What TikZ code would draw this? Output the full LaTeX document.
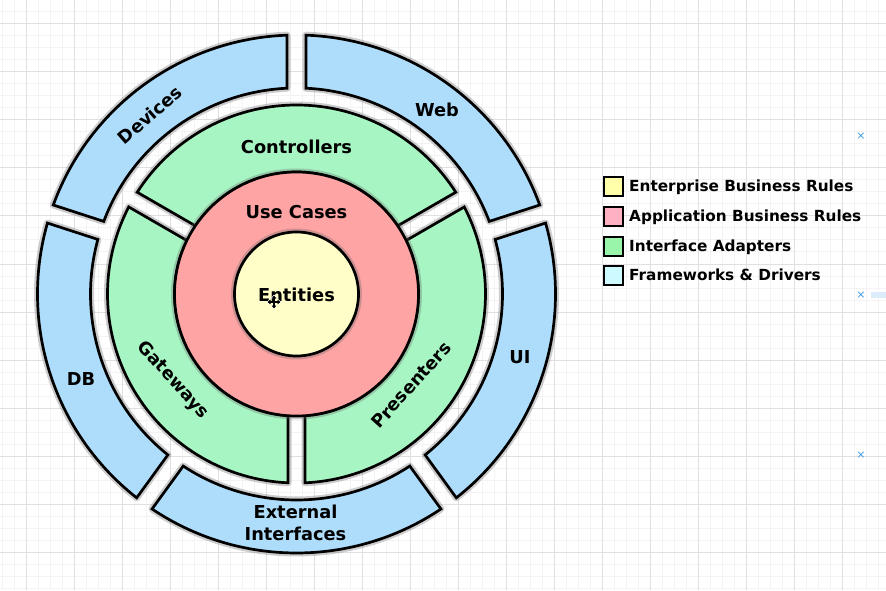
\documentclass[tikz,border=0pt]{standalone}
\usepackage{fontspec}
\setmainfont{DejaVu Sans}
\usetikzlibrary{arrows.meta}

\definecolor{gridminor}{HTML}{F4F2F5}
\definecolor{gridmajor}{HTML}{E2DFE4}
\definecolor{fwblue}{HTML}{AEDDFB}
\definecolor{iagreen}{HTML}{A8F5C4}
\definecolor{ucred}{HTML}{FFA4A4}
\definecolor{entyellow}{HTML}{FFFDC8}
\definecolor{legyellow}{HTML}{FFFFAA}
\definecolor{legpink}{HTML}{FFB0C2}
\definecolor{leggreen}{HTML}{99F5AA}
\definecolor{legcyan}{HTML}{CCFAFF}
\definecolor{handleblue}{HTML}{3D9BE0}
\definecolor{handlebar}{HTML}{DCECFA}

\tikzset{
  halo/.style={draw=black!60, line width=7pt, opacity=0.32, line join=round},
  ringpart/.style={draw=black, line width=2.7pt, line join=miter},
  lbl/.style={font=\fontsize{17.8}{22}\selectfont\bfseries, inner sep=0pt,
              text height=13pt, text depth=0pt},
  lbltwo/.style={font=\fontsize{17.8}{22}\selectfont\bfseries, inner sep=0pt, align=center},
  legsq/.style={draw=black, line width=2pt, minimum size=19pt, inner sep=0pt},
  legtxt/.style={font=\fontsize{15.3}{18}\selectfont\bfseries, inner sep=0pt, anchor=base west},
  handle/.style={text=handleblue, font=\fontsize{11}{12}\selectfont, inner sep=0pt},
}

% annular sector between radii #1 and #2, from angle #3 to #4,
% trimmed by gaps of half width #5 with parallel sides; #6 = fill colour
\newcommand\annseg[6]{%
  \pgfmathsetmacro\segAo{#3+asin(#5/#2)}%
  \pgfmathsetmacro\segBo{#4-asin(#5/#2)}%
  \pgfmathsetmacro\segAi{#3+asin(#5/#1)}%
  \pgfmathsetmacro\segBi{#4-asin(#5/#1)}%
  \path[halo] (\segAo:#2pt) arc[start angle=\segAo, end angle=\segBo, radius=#2pt]
     -- (\segBi:#1pt) arc[start angle=\segBi, end angle=\segAi, radius=#1pt] -- cycle;
  \path[ringpart, fill=#6] (\segAo:#2pt) arc[start angle=\segAo, end angle=\segBo, radius=#2pt]
     -- (\segBi:#1pt) arc[start angle=\segBi, end angle=\segAi, radius=#1pt] -- cycle;
}

\begin{document}
\begin{tikzpicture}[x=1pt, y=1pt]
\useasboundingbox (0,0) rectangle (886,590);
\fill[white] (0,0) rectangle (886,590);

% background grid
\foreach \gx in {2,14,...,886} \draw[gridminor, line width=1pt] (\gx,0) -- (\gx,590);
\foreach \gy in {0,12,...,588} \draw[gridminor, line width=1pt] (0,590-\gy) -- (886,590-\gy);
\foreach \gx in {26,74,...,886} \draw[gridmajor, line width=1pt] (\gx,0) -- (\gx,590);
\foreach \gy in {24,72,...,588} \draw[gridmajor, line width=1pt] (0,590-\gy) -- (886,590-\gy);

\coordinate (C) at (296.5,296);

\begin{scope}[shift={(C)}]
  % frameworks & drivers ring
  \annseg{206}{259}{18}{90}{9.5}{fwblue}
  \annseg{206}{259}{90}{162}{9.5}{fwblue}
  \annseg{206}{259}{162}{234}{9.5}{fwblue}
  \annseg{206}{259}{234}{306}{9.5}{fwblue}
  \annseg{206}{259}{306}{378}{9.5}{fwblue}
  % interface adapters ring
  \annseg{122}{189}{30}{150}{8.5}{iagreen}
  \annseg{122}{189}{150}{270}{8.5}{iagreen}
  \annseg{122}{189}{270}{390}{8.5}{iagreen}
  % use cases and entities
  \path[halo] (0,0) circle[radius=122pt];
  \path[ringpart, fill=ucred] (0,0) circle[radius=122pt];
  \path[halo] (0,0) circle[radius=62pt];
  \path[ringpart, fill=entyellow] (0,0) circle[radius=62pt];
\end{scope}

% layer labels
\node[lbl] (controllers) at (296.5,443) {Controllers};
\node[lbl] (usecases) at (296.5,378) {Use Cases};
\node[lbl] (entities) at (296.5,295) {Entities};
\node[lbl, rotate=-48] (gateways) at (174,211) {Gateways};
\node[lbl, rotate=48] (presenters) at (411,205) {Presenters};
\node[lbl, rotate=41] (devices) at (150,475) {Devices};
\node[lbl] (web) at (437,480) {Web};
\node[lbl] (ui) at (520,233) {UI};
\node[lbl] (db) at (81,211) {DB};
\node[lbltwo] (external) at (295.5,67.5) {External\\Interfaces};

% move cursor over the centre
\begin{scope}[shift={(274,288)}]
  \foreach \ang in {0,90,180,270}
    \draw[white, line width=2.4pt, -{Triangle[length=4pt,width=6pt]}] (0,0) -- (\ang:7.5pt);
  \foreach \ang in {0,90,180,270}
    \draw[black, line width=1.1pt, -{Triangle[length=3pt,width=4.5pt]}] (0,0) -- (\ang:6.5pt);
\end{scope}

% legend
\node[legsq, fill=legyellow] (sqA) at (613,403) {};
\node[legsq, fill=legpink]   (sqB) at (613,373) {};
\node[legsq, fill=leggreen]  (sqC) at (613,343) {};
\node[legsq, fill=legcyan]   (sqD) at (613,314.5) {};
\node[legtxt] (legA) at (629,398) {Enterprise Business Rules};
\node[legtxt] (legB) at (629,368) {Application Business Rules};
\node[legtxt] (legC) at (629,338) {Interface Adapters};
\node[legtxt] (legD) at (629,310) {Frameworks \& Drivers};

% selection handles at the right edge
\node[handle] (hA) at (861,454) {×};
\node[handle] (hB) at (861,295) {×};
\node[handle] (hC) at (861,135) {×};
\fill[handlebar] (871,292) rectangle (886,298);
\end{tikzpicture}
\end{document}
